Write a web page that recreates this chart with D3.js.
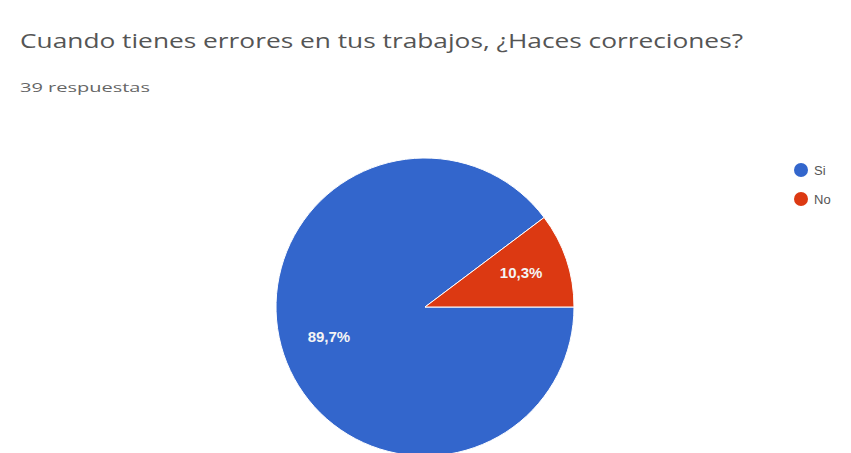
<!DOCTYPE html>
<html>
<head>
<meta charset="utf-8">
<script src="https://cdn.jsdelivr.net/npm/d3@7"></script>
<style>
  html, body { margin: 0; padding: 0; background: #ffffff; }
  svg { display: block; }
</style>
</head>
<body>
<svg id="chart" width="851" height="453"></svg>
<script>
const title = "Cuando tienes errores en tus trabajos, ¿Haces correciones?";
const subtitle = "39 respuestas";
const categories = ["Si", "No"];
const counts = [35, 4];
const percentLabels = ["89,7%", "10,3%"];
const colors = ["#3366cc", "#dc3912"];

const svg = d3.select("#chart");

// Title
svg.append("text")
  .attr("x", 20).attr("y", 48)
  .attr("fill", "#555")
  .attr("textLength", 723)
  .attr("lengthAdjust", "spacingAndGlyphs")
  .style("font-family", "'Open Sans', sans-serif")
  .style("font-size", "19.5px")
  .text(title);

svg.append("text")
  .attr("x", 20).attr("y", 92)
  .attr("fill", "#666")
  .attr("textLength", 130)
  .attr("lengthAdjust", "spacingAndGlyphs")
  .style("font-family", "'Open Sans', sans-serif")
  .style("font-size", "13px")
  .text(subtitle);

// Pie
const cx = 425, cy = 307, r = 149;
const pie = d3.pie().sort(null)
  .startAngle(Math.PI / 2).endAngle(Math.PI / 2 + 2 * Math.PI);
const arcs = pie(counts);
const arc = d3.arc().innerRadius(0).outerRadius(r);
const g = svg.append("g").attr("transform", `translate(${cx},${cy})`);
g.selectAll("path").data(arcs).join("path")
  .attr("d", arc)
  .attr("fill", (d, i) => colors[i])
  .attr("stroke", "#ffffff")
  .attr("stroke-width", 1);

const lblArc = d3.arc().innerRadius(r * 0.68).outerRadius(r * 0.68);
g.selectAll("text.lbl").data(arcs).join("text")
  .attr("class", "lbl")
  .attr("transform", d => {
    const c = lblArc.centroid(d);
    return `translate(${c[0]},${c[1] - 2})`;
  })
  .attr("text-anchor", "middle")
  .attr("dy", "0.35em")
  .attr("fill", "#f4f4f4")
  .style("font-family", "'Liberation Sans', Arial, sans-serif")
  .style("font-weight", "bold")
  .style("font-size", "15px")
  .text((d, i) => percentLabels[i]);

// Legend
const legend = svg.append("g");
const ly = d3.scalePoint().domain(categories).range([170, 199]);
legend.selectAll("circle").data(categories).join("circle")
  .attr("cx", 801).attr("cy", d => ly(d)).attr("r", 7)
  .attr("fill", (d, i) => colors[i]);
legend.selectAll("text").data(categories).join("text")
  .attr("x", 814).attr("y", d => ly(d)).attr("dy", "0.35em")
  .attr("fill", "#555")
  .style("font-family", "'Liberation Sans', Arial, sans-serif")
  .style("font-size", "13px")
  .text(d => d);
</script>
</body>
</html>
